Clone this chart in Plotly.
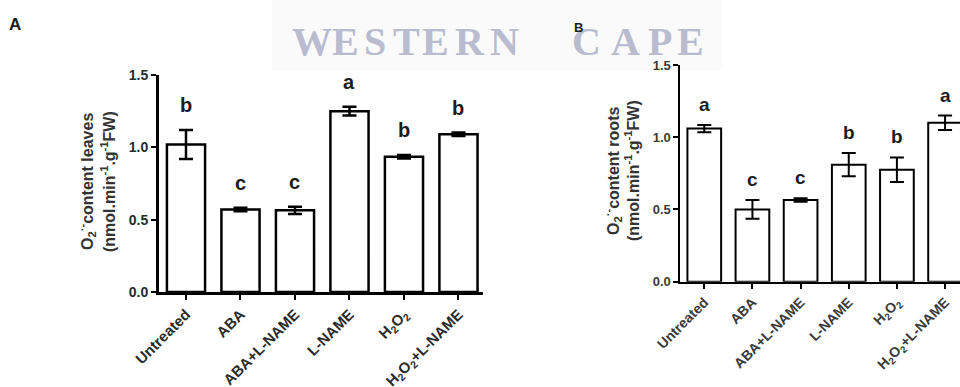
import plotly.graph_objects as go

# Treatments (shared by both panels)
treatments = ["Untreated", "ABA", "ABA+L-NAME", "L-NAME",
              "H<sub>2</sub>O<sub>2</sub>", "H<sub>2</sub>O<sub>2</sub>+L-NAME"]

# Panel A: superoxide content in leaves (mean, SE, significance group)
leaves_mean = [1.02, 0.57, 0.565, 1.25, 0.935, 1.09]
leaves_err = [0.10, 0.012, 0.025, 0.03, 0.012, 0.012]
leaves_group = ["b", "c", "c", "a", "b", "b"]

# Panel B: superoxide content in roots
roots_mean = [1.06, 0.50, 0.565, 0.81, 0.775, 1.10]
roots_err = [0.025, 0.065, 0.012, 0.08, 0.085, 0.05]
roots_group = ["a", "c", "c", "b", "b", "a"]

y_ticks = [0.0, 0.5, 1.0, 1.5]
y_ticklabels = ["0.0", "0.5", "1.0", "1.5"]

W, H = 960, 387
INK = "#1c1c1c"
FONT = "Liberation Sans"


def px(x):
    return x / W


def py(y):
    return 1 - y / H


fig = go.Figure()

fig.add_trace(go.Bar(
    x=treatments, y=leaves_mean,
    error_y=dict(type="data", array=leaves_err, color="black", thickness=2.5, width=7),
    marker=dict(color="white", line=dict(color="black", width=2.5)),
    xaxis="x", yaxis="y", hoverinfo="skip",
))
fig.add_trace(go.Bar(
    x=treatments, y=roots_mean,
    error_y=dict(type="data", array=roots_err, color="black", thickness=2, width=7),
    marker=dict(color="white", line=dict(color="black", width=2)),
    xaxis="x2", yaxis="y2", hoverinfo="skip",
))

annotations = []

# Significance letters above the error bars
for cat, m, e, g in zip(treatments, leaves_mean, leaves_err, leaves_group):
    annotations.append(dict(x=cat, y=m + e, xref="x", yref="y", text=f"<b>{g}</b>",
                            showarrow=False, yanchor="bottom", yshift=12,
                            font=dict(family=FONT, size=20, color=INK)))
for cat, m, e, g in zip(treatments, roots_mean, roots_err, roots_group):
    annotations.append(dict(x=cat, y=m + e, xref="x2", yref="y2", text=f"<b>{g}</b>",
                            showarrow=False, yanchor="bottom", yshift=8,
                            font=dict(family=FONT, size=19, color=INK)))

# Y-axis titles (two rotated lines each)
title_lines_a = ["<b>O<sub>2</sub><sup>·-</sup>content leaves</b>",
                 "<b>(nmol.min<sup>-1</sup>.g<sup>-1</sup>FW)</b>"]
title_lines_b = ["<b>O<sub>2</sub><sup>·-</sup>content roots</b>",
                 "<b>(nmol.min<sup>-1</sup>.g<sup>-1</sup>FW)</b>"]
for txt, xc in zip(title_lines_a, [87, 108]):
    annotations.append(dict(x=px(xc), y=py(182), xref="paper", yref="paper", text=txt,
                            textangle=-90, showarrow=False, xanchor="center", yanchor="middle",
                            font=dict(family=FONT, size=16, color="#333333")))
for txt, xc in zip(title_lines_b, [613, 632]):
    annotations.append(dict(x=px(xc), y=py(171), xref="paper", yref="paper", text=txt,
                            textangle=-90, showarrow=False, xanchor="center", yanchor="middle",
                            font=dict(family=FONT, size=16, color="#333333")))

# Watermark lettering
mark_letters = "WESTERNCAPE"
mark_x = [311.5, 345, 375, 406, 435.5, 470, 505, 586.5, 625.5, 660, 690]
for ch, xc in zip(mark_letters, mark_x):
    annotations.append(dict(x=px(xc), y=py(41), xref="paper", yref="paper", text=f"<b>{ch}</b>",
                            showarrow=False, xanchor="center", yanchor="middle",
                            font=dict(family="Liberation Serif", size=40, color="#b9bccf")))

# Panel labels
annotations.append(dict(x=px(15), y=py(25), xref="paper", yref="paper", text="<b>A</b>",
                        showarrow=False, xanchor="center", yanchor="middle",
                        font=dict(family=FONT, size=17, color=INK)))
annotations.append(dict(x=px(578), y=py(28), xref="paper", yref="paper", text="<b>B</b>",
                        showarrow=False, xanchor="center", yanchor="middle",
                        font=dict(family=FONT, size=13, color=INK)))

axis_common = dict(showline=True, linecolor="black", ticks="outside", tickcolor="black",
                   showgrid=False, zeroline=False, fixedrange=True, automargin=False)

fig.update_layout(
    width=W, height=H, autosize=False,
    margin=dict(l=0, r=0, t=0, b=0, autoexpand=False),
    paper_bgcolor="white", plot_bgcolor="white",
    showlegend=False, bargap=0.3,
    annotations=annotations,
    shapes=[dict(type="rect", xref="paper", yref="paper", layer="below",
                 x0=px(272), x1=px(722), y0=py(70), y1=py(0),
                 fillcolor="#fafafa", line=dict(width=0))],
    xaxis=dict(**axis_common, domain=[px(158.75), px(483)], range=[-0.5, 5.45],
               linewidth=2.5, tickwidth=2, ticklen=5, tickangle=-45, anchor="y",
               tickfont=dict(family=FONT, size=15, color="#2a2a2a")),
    yaxis=dict(**axis_common, domain=[py(292), py(75)], range=[0, 1.5],
               linewidth=2.5, tickwidth=2, ticklen=5, anchor="x",
               tickvals=y_ticks, ticktext=[f"<b>{t}</b>" for t in y_ticklabels],
               tickfont=dict(family=FONT, size=14, color="#2a2a2a")),
    xaxis2=dict(**axis_common, domain=[px(680.2), 1.0], range=[-0.5, 5.31],
                linewidth=2, tickwidth=1.5, ticklen=5, tickangle=-45, anchor="y2",
                tickfont=dict(family=FONT, size=14, color="#3a3a3a")),
    yaxis2=dict(**axis_common, domain=[py(281.7), py(65)], range=[0, 1.5],
                linewidth=1.5, tickwidth=1.5, ticklen=5, anchor="x2",
                tickvals=y_ticks, ticktext=[f"<b>{t}</b>" for t in y_ticklabels],
                tickfont=dict(family=FONT, size=13, color="#3a3a3a")),
)

# Bold category labels
fig.update_xaxes(ticktext=[f"<b>{t}</b>" for t in treatments], tickvals=treatments)

fig.write_html("out.html")
